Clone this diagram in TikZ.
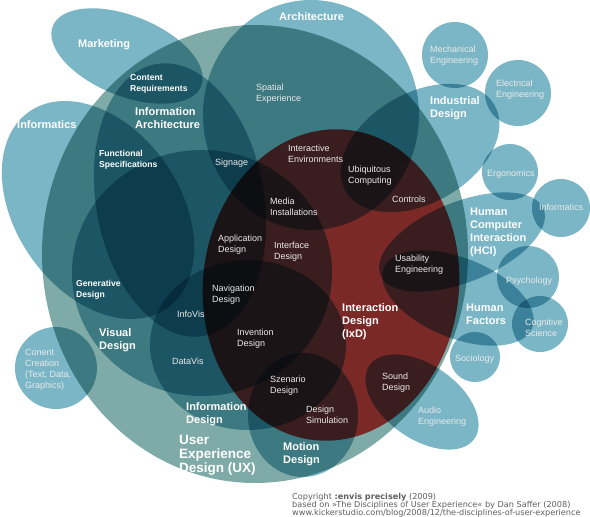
\documentclass[tikz,border=0pt]{standalone}
\usepackage{fontspec}
\setmainfont{Liberation Sans}
\newfontfamily\creditfont{DejaVu Sans}
\usepackage{tikz}
\definecolor{discblue}{RGB}{122,182,198}
\definecolor{uxteal}{RGB}{126,170,167}
\definecolor{ixdred}{RGB}{250,62,60}
\definecolor{labelgrey}{RGB}{234,234,234}
\definecolor{notegrey}{RGB}{95,95,95}
\tikzstyle{disc} = [fill=discblue, blend mode=multiply]
\tikzstyle{uxarea} = [fill=uxteal, blend mode=multiply]
\tikzstyle{ixdarea} = [fill=ixdred, blend mode=multiply]
\tikzstyle{discipline} = [font=\bfseries\fontsize{11}{13}\selectfont, text=white, align=left, anchor=north west, inner sep=0pt]
\tikzstyle{minorbold} = [font=\bfseries\fontsize{8.6}{11}\selectfont, text=white, align=left, anchor=north west, inner sep=0pt]
\tikzstyle{sublabel} = [font=\fontsize{9}{11}\selectfont, text=labelgrey, align=left, anchor=north west, inner sep=0pt]
\tikzstyle{credit} = [font=\creditfont\fontsize{8.15}{8}\selectfont, text=notegrey, align=left, anchor=north west, inner sep=0pt]

\begin{document}
\begin{tikzpicture}[x=1pt, y=-1pt]
    \fill[white] (0,0) rectangle (590,517);
    \useasboundingbox (0,0) rectangle (590,517);

    % User experience field
    \fill[uxarea] (255,254) ellipse [x radius=213, y radius=229];

    % Outer disciplines
    \fill[disc, rotate around={-22:(127,56)}] (127,56) ellipse [x radius=80, y radius=40];
    \fill[disc, rotate around={-55:(98,210)}] (98,210) ellipse [x radius=120, y radius=82];
    \fill[disc] (311,115) ellipse [x radius=108, y radius=115];
    \fill[disc, rotate around={30:(420,148)}] (420,148) ellipse [x radius=86, y radius=55];
    \fill[disc, rotate around={22:(462,242)}] (462,242) ellipse [x radius=88, y radius=40];
    \fill[disc, rotate around={-22:(458,298)}] (458,298) ellipse [x radius=80, y radius=40];
    \fill[disc, rotate around={-35:(422,402)}] (422,402) ellipse [x radius=64, y radius=37];
    \fill[disc] (56,368) circle [radius=41];
    \fill[disc] (455,55) circle [radius=33];
    \fill[disc] (518,93) circle [radius=33];
    \fill[disc] (510,172) circle [radius=28];
    \fill[disc] (561,208) circle [radius=29];
    \fill[disc] (528,277) circle [radius=31];
    \fill[disc] (540,324) circle [radius=28];
    \fill[disc] (475,357) circle [radius=25];

    % Inner disciplines
    \fill[disc, rotate around={-80:(180,200)}] (180,200) ellipse [x radius=138, y radius=84];
    \fill[disc] (202,273) ellipse [x radius=130, y radius=123];
    \fill[disc] (248,345) ellipse [x radius=98, y radius=85];
    \fill[disc] (303,415) ellipse [x radius=55, y radius=62];
    \begin{scope}
        \clip (255,254) ellipse [x radius=213, y radius=229];
        \fill[ixdarea, rotate around={-6:(331,285)}] (331,285) ellipse [x radius=128, y radius=156];
    \end{scope}

    % Discipline names
    \node (marketing) [discipline] at (78,39) {Marketing};
    \node (architecture) [discipline] at (279,12) {Architecture};
    \node (informaticsleft) [discipline] at (17,120) {Informatics};
    \node (infoarch) [discipline] at (135,107) {Information\\Architecture};
    \node (industrial) [discipline] at (430,96) {Industrial\\Design};
    \node (hci) [discipline] at (470,208) {Human\\Computer\\Interaction\\(HCI)};
    \node (humanfactors) [discipline] at (466,304) {Human\\Factors};
    \node (ixd) [discipline] at (342,303) {Interaction\\Design\\(IxD)};
    \node (visual) [discipline] at (99,328) {Visual\\Design};
    \node (infodesign) [discipline] at (186,402) {Information\\Design};
    \node (motion) [discipline] at (283,442) {Motion\\Design};
    \node (ux) [discipline, font=\bfseries\fontsize{13.5}{14}\selectfont] at (179,435) {User\\Experience\\Design (UX)};

    % Overlaps
    \node (contentreq) [minorbold] at (130,74) {Content\\Requirements};
    \node (funcspec) [minorbold] at (99,150) {Functional\\Specifications};
    \node (generative) [minorbold] at (76,280) {Generative\\Design};
    \node (spatial) [sublabel] at (256,84) {Spatial\\Experience};
    \node (signage) [sublabel] at (215,159) {Signage};
    \node (interenv) [sublabel] at (288,145) {Interactive\\Environments};
    \node (ubicomp) [sublabel] at (348,166) {Ubiquitous\\Computing};
    \node (controls) [sublabel] at (392,196) {Controls};
    \node (mediainst) [sublabel] at (270,198) {Media\\Installations};
    \node (appdesign) [sublabel] at (218,235) {Application\\Design};
    \node (interface) [sublabel] at (274,242) {Interface\\Design};
    \node (navdesign) [sublabel] at (212,285) {Navigation\\Design};
    \node (infovis) [sublabel] at (177,311) {InfoVis};
    \node (invention) [sublabel] at (237,329) {Invention\\Design};
    \node (datavis) [sublabel] at (172,358) {DataVis};
    \node (szenario) [sublabel] at (270,376) {Szenario\\Design};
    \node (designsim) [sublabel] at (306,406) {Design\\Simulation};
    \node (usability) [sublabel] at (395,255) {Usability\\Engineering};
    \node (sound) [sublabel] at (382,373) {Sound\\Design};

    % Neighbouring fields
    \node (contentcreation) [sublabel] at (25,349) {Conent\\Creation\\(Text, Data,\\Graphics)};
    \node (mecheng) [sublabel] at (430,46) {Mechanical\\Engineering};
    \node (eleceng) [sublabel] at (496,80) {Electrical\\Engineering};
    \node (ergonomics) [sublabel] at (487,170) {Ergonomics};
    \node (informaticsright) [sublabel] at (539,204) {Informatics};
    \node (psychology) [sublabel] at (506,277) {Psychology};
    \node (cognitive) [sublabel] at (525,319) {Cognitive\\Science};
    \node (sociology) [sublabel] at (455,355) {Sociology};
    \node (audio) [sublabel] at (418,407) {Audio\\Engineering};

    % Credits
    \node (credits) [credit] at (292,493) {Copyright \textbf{:envis precisely} (2009)\\based on »The Disciplines of User Experience« by Dan Saffer (2008)\\www.kickerstudio.com/blog/2008/12/the-disciplines-of-user-experience};
\end{tikzpicture}
\end{document}
